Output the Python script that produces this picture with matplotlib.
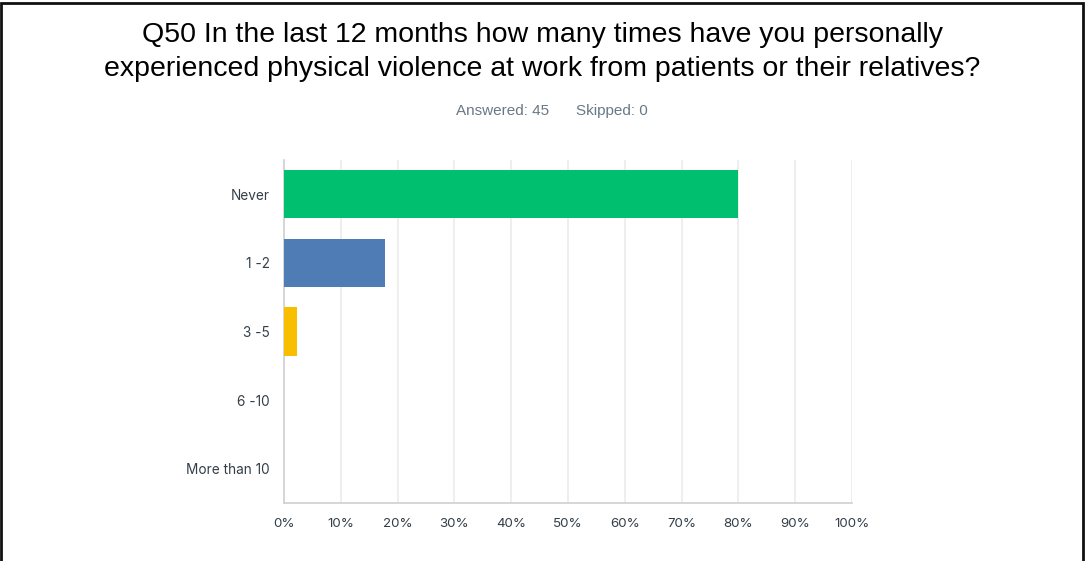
import matplotlib.pyplot as plt
from matplotlib.patches import Rectangle

categories = ['Never', '1 -2', '3 -5', '6 -10', 'More than 10']
percents = [80.0, 17.78, 2.22, 0.0, 0.0]
colors = ['#00bf6f', '#507cb6', '#f9be00', '#6bc8cd', '#ff8b4f']
tick_vals = list(range(0, 101, 10))

W, H = 1085, 561
fig = plt.figure(figsize=(W / 100, H / 100), dpi=100)
fig.patch.set_facecolor('white')

# plot area in pixel terms
left, right, top, bottom = 284, 852, 160, 503
ax = fig.add_axes([left / W, 1 - bottom / H, (right - left) / W, (bottom - top) / H])

y = list(range(len(categories)))
ax.barh(y, percents, height=0.7, color=colors, zorder=3)
ax.set_ylim(len(categories) - 0.5, -0.5)
ax.set_xlim(0, 100)
ax.set_yticks(y)
ax.set_yticklabels(categories, fontsize=9.8, color='#333e48', family='Inter')
ax.set_xticks(tick_vals)
ax.set_xticklabels([f'{v}%' for v in tick_vals], fontsize=9.6, color='#333e48', family='Inter')
ax.tick_params(length=0)
ax.tick_params(axis='x', pad=11)
ax.tick_params(axis='y', pad=10)
ax.grid(axis='x', color='#ebebeb', linewidth=1.2, zorder=0)
for s in ['top', 'right']:
    ax.spines[s].set_visible(False)
for s in ['left', 'bottom']:
    ax.spines[s].set_color('#d0d0d0')
    ax.spines[s].set_linewidth(1.2)

fig.text(0.5, 1 - 35 / H, 'Q50 In the last 12 months how many times have you personally',
         ha='center', va='center', fontsize=20.5, family='Liberation Sans', color='#000000')
fig.text(0.5, 1 - 69 / H, 'experienced physical violence at work from patients or their relatives?',
         ha='center', va='center', fontsize=20.5, family='Liberation Sans', color='#000000')
fig.text(503 / W, 1 - 111 / H, 'Answered: 45', ha='center', va='center',
         fontsize=11, family='Liberation Sans', color='#6a7886')
fig.text(612 / W, 1 - 111 / H, 'Skipped: 0', ha='center', va='center',
         fontsize=11, family='Liberation Sans', color='#6a7886')

# frame around the figure
fig.add_artist(Rectangle((1 / W, -0.01), (W - 3) / W, 1 - 2.5 / H + 0.01,
                         transform=fig.transFigure, fill=False,
                         edgecolor='#111111', linewidth=2))

fig.savefig('out.png', dpi=100)
